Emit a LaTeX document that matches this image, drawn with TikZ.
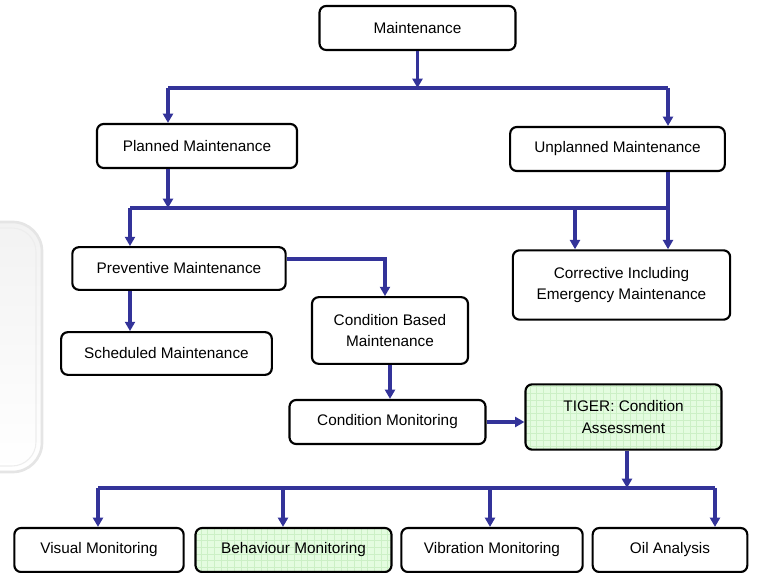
\documentclass[tikz,border=0pt]{standalone}
\usepackage{fontspec}
\setmainfont{Liberation Sans}
\usetikzlibrary{arrows.meta}
\definecolor{flow}{RGB}{51,51,153}
\definecolor{greenfill}{RGB}{228,252,224}
\definecolor{gridline}{RGB}{204,240,198}
\tikzset{
  box/.style={draw=black, line width=1.6pt, rounded corners=5pt, fill=white,
    align=center, font=\fontsize{11.5pt}{16pt}\selectfont, inner sep=0pt},
  greenbox/.style={box, fill=greenfill, path picture={
    \draw[gridline, line width=0.4pt, step=5pt]
      (path picture bounding box.south west) grid (path picture bounding box.north east);}},
  link/.style={draw=flow, line width=2.3pt},
  arr/.style={link, -{Triangle[length=7pt,width=7.5pt]}},
}
\begin{document}
\begin{tikzpicture}[x=0.75pt,y=-0.75pt]
\useasboundingbox (0,0) rectangle (757,573);
% faint background panel at the left edge
\draw[gray!20, line width=2pt, rounded corners=22pt, top color=gray!10, bottom color=white] (-40,222) rectangle (42,472);
\draw[gray!14, line width=0.8pt, rounded corners=18pt] (-40,228) rectangle (36,466);

% nodes
\node[box, minimum width=147pt, minimum height=33pt] (maint) at (417.5,28) {Maintenance};
\node[box, minimum width=150pt, minimum height=33pt] (planned) at (197,146) {Planned Maintenance};
\node[box, minimum width=161pt, minimum height=33pt] (unplanned) at (617.5,149) {Unplanned Maintenance};
\node[box, minimum width=160pt, minimum height=32pt] (prev) at (179,268.5) {Preventive Maintenance};
\node[box, minimum width=163pt, minimum height=52pt] (corr) at (621.5,285) {Corrective Including\\Emergency Maintenance};
\node[box, minimum width=117pt, minimum height=50pt] (cbm) at (390,330.5) {Condition Based\\Maintenance};
\node[box, minimum width=158pt, minimum height=32pt] (sched) at (166.5,353.5) {Scheduled Maintenance};
\node[box, minimum width=147pt, minimum height=33pt] (cmon) at (387.5,422) {Condition Monitoring};
\node[greenbox, minimum width=147pt, minimum height=49pt] (tiger) at (623.5,417) {TIGER: Condition\\Assessment};
\node[box, minimum width=127pt, minimum height=33pt] (visual) at (99,550) {Visual Monitoring};
\node[greenbox, minimum width=147pt, minimum height=33pt] (behav) at (293.5,550) {Behaviour Monitoring};
\node[box, minimum width=136pt, minimum height=33pt] (vib) at (492,550) {Vibration Monitoring};
\node[box, minimum width=116pt, minimum height=33pt] (oil) at (670,550) {Oil Analysis};

% junction coordinates
\coordinate (b1l) at (168,88);
\coordinate (b1r) at (668,88);
\coordinate (b1m) at (417.5,88);
\coordinate (b2l) at (130,208);
\coordinate (b2r) at (668,208);
\coordinate (b2c) at (575,208);
\coordinate (b2p) at (168,208);
\coordinate (pvturn) at (385,259);
\coordinate (b3l) at (98,488);
\coordinate (b3r) at (715,488);
\coordinate (b3t) at (627,488);
\coordinate (b3b) at (283,488);
\coordinate (b3v) at (490,488);

% level 1
\draw[arr] (maint.south) -- (b1m);
\draw[link] (b1l) -- (b1r);
\draw[arr] (b1l) -- (b1l |- planned.north);
\draw[arr] (b1r) -- (b1r |- unplanned.north);

% level 2
\draw[arr] (b2p |- planned.south) -- (b2p);
\draw[link] (b2r |- unplanned.south) -- (b2r);
\draw[link] (b2l) -- (b2r);
\draw[arr] (b2l) -- (b2l |- prev.north);
\draw[arr] (b2c) -- (b2c |- corr.north);
\draw[arr] (b2r) -- (b2r |- corr.north);

% preventive branch
\draw[arr] (prev.east |- pvturn) -- (pvturn) -- (pvturn |- cbm.north);
\draw[arr] (b2l |- prev.south) -- (b2l |- sched.north);
\draw[arr] (cbm.south) -- (cbm.south |- cmon.north);
\draw[arr] (cmon.east) -- (cmon.east -| tiger.west);

% bottom level
\draw[arr] (b3t |- tiger.south) -- (b3t);
\draw[link] (b3l) -- (b3r);
\draw[arr] (b3l) -- (b3l |- visual.north);
\draw[arr] (b3b) -- (b3b |- behav.north);
\draw[arr] (b3v) -- (b3v |- vib.north);
\draw[arr] (b3r) -- (b3r |- oil.north);
\end{tikzpicture}
\end{document}
